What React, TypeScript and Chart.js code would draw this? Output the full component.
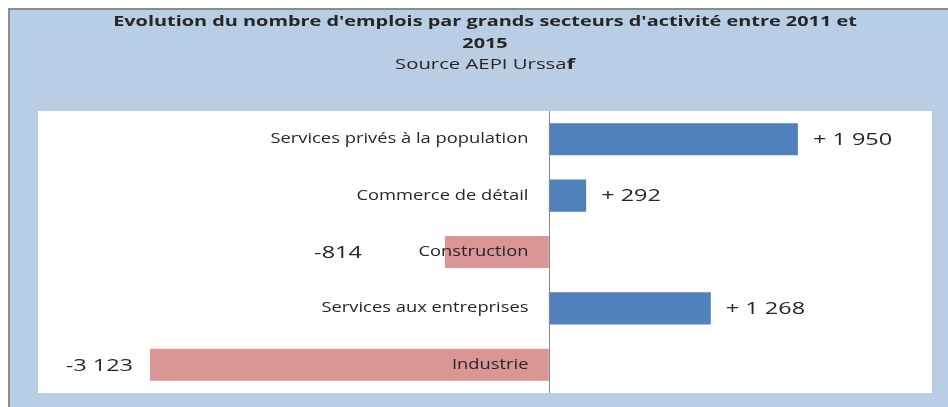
import React, { useEffect, useRef } from "react";
import { Chart, registerables } from "chart.js";

Chart.register(...registerables);

const categories = [
  "Services privés à la population",
  "Commerce de détail",
  "Construction",
  "Services aux entreprises",
  "Industrie",
];
const values = [1950, 292, -814, 1268, -3123];
const valueLabels = ["+ 1 950", "+ 292", "-814", "+ 1 268", "-3 123"];
const titleLines = [
  "Evolution du nombre d'emplois par grands secteurs d'activité entre 2011 et",
  "2015",
];
const subtitleMain = "Source AEPI Urssa";
const subtitleEnd = "f";

const POS = "#4F81BD";
const NEG = "#D99694";
const FONT = "'Open Sans', 'DejaVu Sans', sans-serif";

function stretchText(ctx: CanvasRenderingContext2D, text: string, x: number, y: number, sx: number, align: CanvasTextAlign) {
  ctx.save();
  ctx.translate(x, y);
  ctx.scale(sx, 1);
  ctx.textAlign = align;
  ctx.fillText(text, 0, 0);
  ctx.restore();
}

const decorPlugin = {
  id: "decor",
  beforeDraw(chart: any) {
    const { ctx, chartArea: a, width, height } = chart;
    ctx.save();
    ctx.fillStyle = "#B9CDE5";
    ctx.fillRect(0, 0, width, height);
    ctx.fillStyle = "#FFFFFF";
    ctx.fillRect(0, 0, width, 8);
    ctx.fillRect(0, 0, 8, height);
    ctx.fillStyle = "#8C8C8C";
    ctx.fillRect(8, 8, width - 8, 2);
    ctx.fillRect(8, 8, 2, height - 8);
    ctx.fillStyle = "#FFFFFF";
    ctx.fillRect(a.left, a.top, a.right - a.left, a.bottom - a.top);
    ctx.restore();
  },
  afterDatasetsDraw(chart: any, _args: any, opts: any) {
    const { ctx, chartArea: a } = chart;
    const xs = chart.scales.x;
    const meta = chart.getDatasetMeta(0);
    const zx = Math.round(xs.getPixelForValue(0)) + 0.5;
    ctx.save();
    // zero axis line
    ctx.strokeStyle = "#8A8A8A";
    ctx.lineWidth = 1;
    ctx.beginPath();
    ctx.moveTo(zx, a.top);
    ctx.lineTo(zx, a.bottom);
    ctx.stroke();

    ctx.textBaseline = "middle";
    ctx.fillStyle = "#262626";
    // category labels, right-aligned near zero line
    ctx.font = `14px ${FONT}`;
    meta.data.forEach((bar: any, i: number) => {
      stretchText(ctx, categories[i], zx - 21, bar.y, opts.catStretch, "right");
    });
    // value labels
    ctx.font = `17px ${FONT}`;
    meta.data.forEach((bar: any, i: number) => {
      const v = values[i];
      const nudge = (opts.nudges && opts.nudges[i]) || 0;
      if (v >= 0) {
        stretchText(ctx, valueLabels[i], bar.x + 15 + nudge, bar.y + 1, opts.valStretch, "left");
      } else {
        stretchText(ctx, valueLabels[i], bar.x - 17 + nudge, bar.y + 1, opts.valStretch, "right");
      }
    });

    // titles
    const cx = opts.titleCenter;
    ctx.font = `bold 14px ${FONT}`;
    stretchText(ctx, titleLines[0], cx, 22, opts.titleStretch, "center");
    stretchText(ctx, titleLines[1], cx, 44, opts.titleStretch, "center");
    const ss = opts.subStretch;
    ctx.font = `14px ${FONT}`;
    const w1 = ctx.measureText(subtitleMain).width * ss;
    ctx.font = `bold 15px ${FONT}`;
    const w2 = ctx.measureText(subtitleEnd).width * ss;
    const start = cx - (w1 + w2) / 2;
    ctx.font = `14px ${FONT}`;
    stretchText(ctx, subtitleMain, start, 65, ss, "left");
    ctx.font = `bold 15px ${FONT}`;
    stretchText(ctx, subtitleEnd, start + w1, 65, ss, "left");
    ctx.restore();
  },
};

export default function App() {
  const ref = useRef<HTMLCanvasElement | null>(null);
  useEffect(() => {
    if (!ref.current) return;
    const chart = new Chart(ref.current, {
      type: "bar",
      data: {
        labels: categories,
        datasets: [
          {
            data: values,
            backgroundColor: values.map((v) => (v >= 0 ? POS : NEG)),
            borderWidth: 0,
            barPercentage: 0.57,
            categoryPercentage: 1,
          },
        ],
      },
      options: {
        indexAxis: "y",
        responsive: false,
        animation: false,
        layout: { padding: { left: 38, top: 111, right: 16, bottom: 14 } },
        scales: {
          x: { min: -4000, max: 3000, display: false },
          y: { display: false },
        },
        plugins: {
          legend: { display: false },
          tooltip: { enabled: false },
          title: { display: false },
          decor: {
            catStretch: 1.31,
            valStretch: 1.38,
            titleStretch: 1.42,
            subStretch: 1.45,
            titleCenter: 485,
            nudges: [0, 0, -66, 0, 0],
          },
        } as any,
      },
      plugins: [decorPlugin],
    });
    return () => chart.destroy();
  }, []);
  return (
    <div style={{ position: "absolute", left: 0, top: 0, width: 948, height: 407 }}>
      <canvas ref={ref} width={948} height={407} style={{ display: "block" }} />
    </div>
  );
}
